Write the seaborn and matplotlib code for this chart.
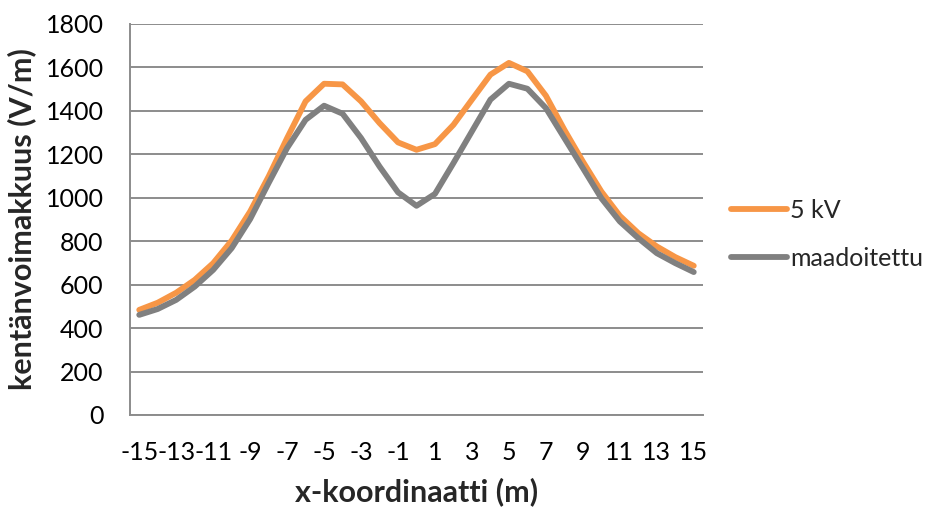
import matplotlib
matplotlib.use("Agg")
import matplotlib.pyplot as plt
import seaborn as sns
import pandas as pd

# Field strength profile across the line corridor
x_coord = list(range(-15, 16))
kv5 = [484, 517, 563, 622, 699, 803, 937, 1098, 1275, 1444, 1525, 1522, 1444, 1344, 1255,
       1221, 1247, 1336, 1452, 1567, 1621, 1582, 1470, 1313, 1167, 1029, 917, 837, 776, 727, 687]
grounded = [461, 488, 530, 591, 668, 768, 902, 1068, 1229, 1359, 1424, 1387, 1275, 1144, 1025,
            963, 1018, 1160, 1306, 1452, 1525, 1502, 1413, 1275, 1137, 998, 891, 814, 745, 699, 658]
series_names = ["5 kV", "maadoitettu"]
y_ticks = list(range(0, 1801, 200))
x_ticks = list(range(-15, 16, 2))

df = pd.DataFrame({
    "x": x_coord * 2,
    "E": kv5 + grounded,
    "series": [series_names[0]] * len(x_coord) + [series_names[1]] * len(x_coord),
})

sns.set_theme(style="white")
plt.rcParams["font.family"] = ["Lato", "DejaVu Sans"]

fig = plt.figure(figsize=(9.31, 5.07), dpi=100)
ax = fig.add_axes([130 / 931, 92 / 507, 573 / 931, 391 / 507])

palette = {series_names[0]: "#F79646", series_names[1]: "#808080"}
sns.lineplot(data=df, x="x", y="E", hue="series", palette=palette, linewidth=4.2,
             ax=ax, legend=True, zorder=3)

ax.set_xlim(-15.5, 15.5)
ax.set_ylim(0, 1800)
ax.set_yticks(y_ticks)
ax.set_xticks(x_ticks)
ax.set_xticklabels([str(v) for v in x_ticks])
ax.grid(axis="y", color="#8C8C8C", linewidth=1.4, zorder=0)
ax.set_axisbelow(True)

for side in ["top", "right"]:
    ax.spines[side].set_visible(False)
for side in ["left", "bottom"]:
    ax.spines[side].set_color("#8C8C8C")
    ax.spines[side].set_linewidth(1.4)

ax.tick_params(axis="both", length=0, labelsize=18, colors="black")
ax.tick_params(axis="y", pad=19)
ax.tick_params(axis="x", pad=19)

ax.set_xlabel("x-koordinaatti (m)", fontsize=22, fontweight="bold", labelpad=9)
ax.set_ylabel("kentänvoimakkuus (V/m)", fontsize=22, fontweight="bold", labelpad=7)

handles, labels = ax.get_legend_handles_labels()
ax.legend(handles, labels, loc="center left", bbox_to_anchor=(731 / 931, 0.538),
          bbox_transform=fig.transFigure, frameon=False, fontsize=18,
          handlelength=2.25, handletextpad=0.1, labelspacing=1.0, borderpad=0,
          borderaxespad=0)

fig.savefig("out.png", dpi=100)
